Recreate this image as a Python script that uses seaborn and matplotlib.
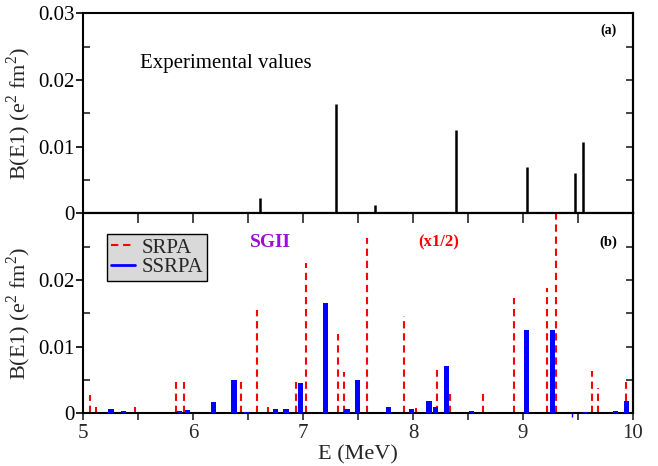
import numpy as np
import pandas as pd
import seaborn as sns
import matplotlib
matplotlib.use("Agg")
import matplotlib.pyplot as plt
from matplotlib.lines import Line2D
from matplotlib.ticker import MultipleLocator

# ---------------- data ----------------
exp_E = [6.61, 7.30, 7.655, 8.39, 9.04, 9.47, 9.55]
exp_B = [0.0023, 0.01645, 0.0013, 0.01245, 0.0070, 0.0060, 0.0107]

srpa_E = [5.064, 5.115, 5.47, 5.85, 5.92, 6.433, 6.58, 6.68, 6.936, 7.027,
          7.315, 7.37, 7.585, 7.918, 8.024, 8.215, 8.34, 8.636, 8.915, 9.215,
          9.30, 9.624, 9.68, 9.94]
srpa_B = [0.00275, 0.0009, 0.001, 0.00466, 0.00466, 0.00466, 0.0155, 0.0009,
          0.00475, 0.0226, 0.0119, 0.0062, 0.0263, 0.0146, 0.00085, 0.0065,
          0.00286, 0.00286, 0.0173, 0.0188, 0.035, 0.0064, 0.00376, 0.00475]

ssrpa_E = [5.255, 5.367, 5.875, 5.95, 6.19, 6.373, 6.488, 6.75, 6.845, 6.98,
           7.206, 7.40, 7.494, 7.776, 7.988, 8.145, 8.206, 8.306, 8.53, 9.03,
           9.267, 9.57, 9.84, 9.94]
ssrpa_B = [0.00065, 0.00035, 0.0004, 0.00045, 0.00175, 0.00496, 0.0002, 0.0006,
           0.0006, 0.0046, 0.01655, 0.00065, 0.00496, 0.0009, 0.00065, 0.00185,
           0.001, 0.0071, 0.0003, 0.01253, 0.01253, 0.0002, 0.00035, 0.0019]

ssrpa_thin_E = [9.45]
ssrpa_thin_B = [-0.0005]

x_ticks = [5, 6, 7, 8, 9, 10]
y_ticks_top = [0, 0.01, 0.02, 0.03]
y_ticks_bot = [0, 0.01, 0.02]
y_tick_labels_top = ["0", "0.01", "0.02", "0.03"]
y_tick_labels_bot = ["0", "0.01", "0.02"]

df_exp = pd.DataFrame({"E": exp_E, "B": exp_B})
df_srpa = pd.DataFrame({"E": srpa_E, "B": srpa_B})
df_ssrpa = pd.DataFrame({"E": ssrpa_E, "B": ssrpa_B})

# ---------------- style ----------------
sns.set_theme(style="ticks")
plt.rcParams["font.family"] = ["Liberation Serif", "DejaVu Serif"]
plt.rcParams["mathtext.fontset"] = "custom"
plt.rcParams["mathtext.rm"] = "Liberation Serif"
plt.rcParams["axes.linewidth"] = 1.5
plt.rcParams["axes.edgecolor"] = "black"

fig = plt.figure(figsize=(6.58, 4.66), dpi=100)
ax1 = fig.add_axes([0.1261, 0.5423, 0.8359, 0.4292])
ax2 = fig.add_axes([0.1261, 0.1131, 0.8359, 0.4292])

TICKFS = 15
LABFS = 16
DASH = (0, (3.5, 2.3))


def style_axis(ax, yticks, ylabels, show_xlabels, top_ticks):
    ax.set_xlim(5, 10)
    ax.set_ylim(0, 0.03)
    ax.set_xticks(x_ticks)
    ax.xaxis.set_minor_locator(MultipleLocator(0.5))
    ax.set_yticks(yticks)
    ax.set_yticklabels(ylabels)
    ax.yaxis.set_minor_locator(MultipleLocator(0.005))
    ax.tick_params(axis="y", which="major", direction="out", length=5,
                   width=1.2, labelsize=TICKFS, pad=1, colors="black",
                   left=True, right=False)
    ax.tick_params(axis="y", which="minor", direction="in", length=5,
                   width=1.2, left=True, right=False)
    ax.tick_params(axis="x", which="both", direction="out", length=5,
                   width=1.2, labelsize=TICKFS, pad=3, bottom=True, top=False,
                   labelbottom=show_xlabels)
    # right-side ticks pointing inward
    sec = ax.secondary_yaxis("right")
    sec.set_yticks(yticks)
    sec.yaxis.set_minor_locator(MultipleLocator(0.005))
    sec.tick_params(which="both", direction="in", length=5, width=1.2,
                    labelright=False)
    sec.spines["right"].set_linewidth(1.5)
    if top_ticks:
        sect = ax.secondary_xaxis("top")
        sect.set_xticks(x_ticks)
        sect.xaxis.set_minor_locator(MultipleLocator(0.5))
        sect.tick_params(which="both", direction="in", length=7, width=1.2,
                         labeltop=False)
    for s in ax.spines.values():
        s.set_linewidth(1.5)
        s.set_color("black")
    ax.set_facecolor("white")
    ax.grid(False)
    ax.set_ylabel(r"B(E1) (e$^2$ fm$^2$)", fontsize=LABFS, labelpad=4)


# ---------------- top panel ----------------
ax1.vlines(df_exp["E"], 0, df_exp["B"], colors="black", linewidth=1.8)
style_axis(ax1, y_ticks_top, y_tick_labels_top, False, False)
ax1.text(5.52, 0.0225, "Experimental values", fontsize=15, va="center",
         ha="left", color="black")
ax1.text(9.78, 0.0274, "(a)", fontsize=10, fontweight="bold", ha="center",
         va="center", color="black")

# ---------------- bottom panel ----------------
ax2.vlines(df_srpa["E"], 0, df_srpa["B"], colors="#ff0000", linewidth=1.5,
           linestyles=[DASH])
ax2.bar(df_ssrpa["E"], df_ssrpa["B"], width=0.047, color="#0000ff",
        edgecolor="none", zorder=3)
ax2.vlines(ssrpa_thin_E, 0, ssrpa_thin_B, colors="#0000ff", linewidth=1.0,
           clip_on=False, zorder=3)
style_axis(ax2, y_ticks_bot, y_tick_labels_bot, True, True)
ax2.set_xlabel("E (MeV)", fontsize=LABFS, labelpad=1)

ax2.text(6.70, 0.0256, "SGII", fontsize=14, fontweight="bold",
         color="#9a0fd6", ha="center", va="center")
ax2.text(8.236, 0.0256, "(x1/2)", fontsize=12, fontweight="bold",
         color="#ff0000", ha="center", va="center")
ax2.text(9.78, 0.0256, "(b)", fontsize=10.5, fontweight="bold", ha="center",
         va="center", color="black")

handles = [Line2D([0], [0], color="#ff0000", lw=1.5, linestyle=DASH),
           Line2D([0], [0], color="#0000ff", lw=2.0)]
leg = ax2.legend(handles, ["SRPA", "SSRPA"], loc="upper left",
                 bbox_to_anchor=(0.0436, 0.8965), borderaxespad=0,
                 fontsize=15, frameon=True, fancybox=False,
                 handlelength=1.15, handletextpad=0.3, labelspacing=0.0,
                 borderpad=0.2)
leg.get_frame().set_facecolor("#d9d9d9")
leg.get_frame().set_edgecolor("black")
leg.get_frame().set_linewidth(1.0)
leg.get_frame().set_alpha(1.0)

fig.savefig("out.png", dpi=100)
